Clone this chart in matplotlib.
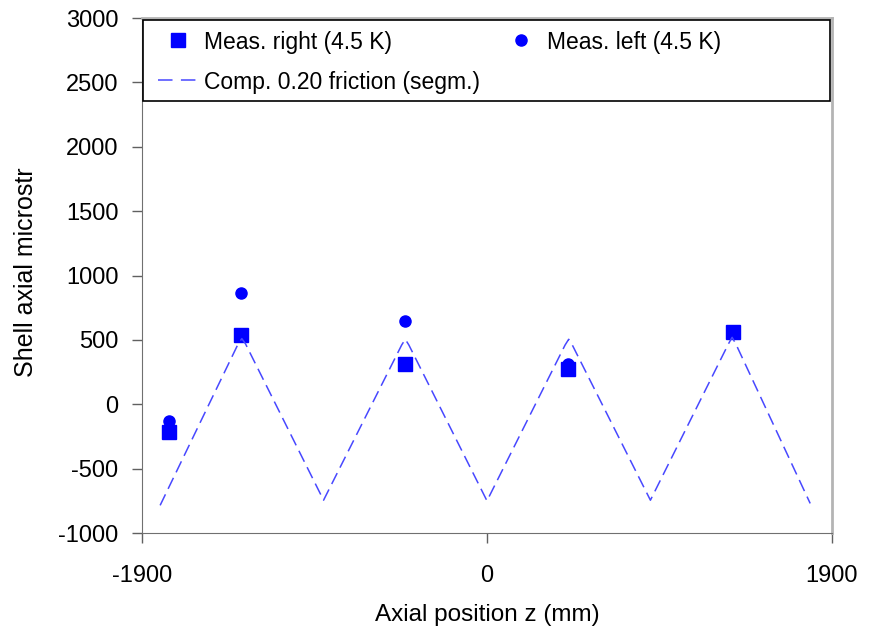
import numpy as np
import matplotlib
matplotlib.use("Agg")
from matplotlib import pyplot as plt
from matplotlib.patches import Rectangle
from matplotlib.lines import Line2D
from matplotlib.legend import Legend

plt.rcParams['font.family'] = ['Liberation Sans', 'DejaVu Sans']
plt.rcParams['axes.unicode_minus'] = False

# measured strain at the gauge stations (4.5 K)
z_right = [-1750, -1355, -450, 445, 1355]
eps_right = [-215, 535, 315, 275, 560]
z_left = [-1750, -1355, -450, 445]
eps_left = [-130, 865, 645, 315]

# computed profile, 0.20 friction, segmented shell
z_comp = [-1800, -1370, -1350, -1330, -900, -470, -450, -430, 0,
          430, 450, 470, 900, 1330, 1350, 1370, 1780]
eps_comp = [-785, 470, 510, 470, -745, 460, 505, 460, -750,
            460, 505, 460, -745, 470, 520, 470, -770]

blue = '#0000ff'
dash_blue = '#4848ff'
fs_leg = 16.5

fig = plt.figure(figsize=(8.78, 6.36), dpi=100)
ax = fig.add_axes([0.1617, 0.1619, 0.7859, 0.8097])

h_right, = ax.plot(z_right, eps_right, 's', color=blue, ms=9.5, lw=0)
ax.plot(z_comp, eps_comp, color=dash_blue, lw=1.1, dashes=(8, 4))
h_left, = ax.plot(z_left, eps_left, 'o', color=blue, ms=8, lw=0)
# legend key for the computed curve: two long dashes
h_comp = Line2D([], [], color=dash_blue, lw=1.1, dashes=(9.5, 5.5))

ax.set_xlim(-1900, 1900)
ax.set_ylim(-1000, 3000)
ax.set_xticks([-1900, 0, 1900])
ax.set_yticks(np.arange(-1000, 3001, 500))
ax.tick_params(direction='out', length=7, width=1, colors='#606060', labelsize=17,
               labelcolor='black')
ax.tick_params(axis='y', pad=10)
ax.tick_params(axis='x', pad=16)

for side in ['left', 'bottom']:
    ax.spines[side].set_color('#707070')
for side in ['top', 'right']:
    ax.spines[side].set_color('#b4b4b4')
    ax.spines[side].set_linewidth(2)

ax.set_xlabel('Axial position z (mm)', fontsize=17.5)
ax.set_ylabel('Shell axial microstr', fontsize=18)
ax.xaxis.set_label_coords(0.5, -0.138)
ax.yaxis.set_label_coords(-0.150, 0.507)

# legend frame across the top of the plot area
frame = Rectangle((0.1634, 0.8412), 0.7819, 0.1274, transform=fig.transFigure,
                  facecolor='white', edgecolor='black', lw=1.2,
                  clip_on=False, zorder=4)
ax.add_patch(frame)

entries = [
    (h_right, 'Meas. right (4.5 K)', 158, 42),
    (h_left, 'Meas. left (4.5 K)', 501, 42),
    (h_comp, 'Comp. 0.20 friction (segm.)', 158, 82),
]
for handle, text, px, py in entries:
    leg = Legend(ax, [handle], [text], loc='center left',
                 bbox_to_anchor=(px / 878, 1 - py / 636),
                 bbox_transform=fig.transFigure, frameon=False,
                 fontsize=fs_leg, handlelength=1.75, handletextpad=0.26,
                 borderpad=0, borderaxespad=0)
    leg.set_zorder(5)
    ax.add_artist(leg)

fig.savefig('out.png', dpi=100)
